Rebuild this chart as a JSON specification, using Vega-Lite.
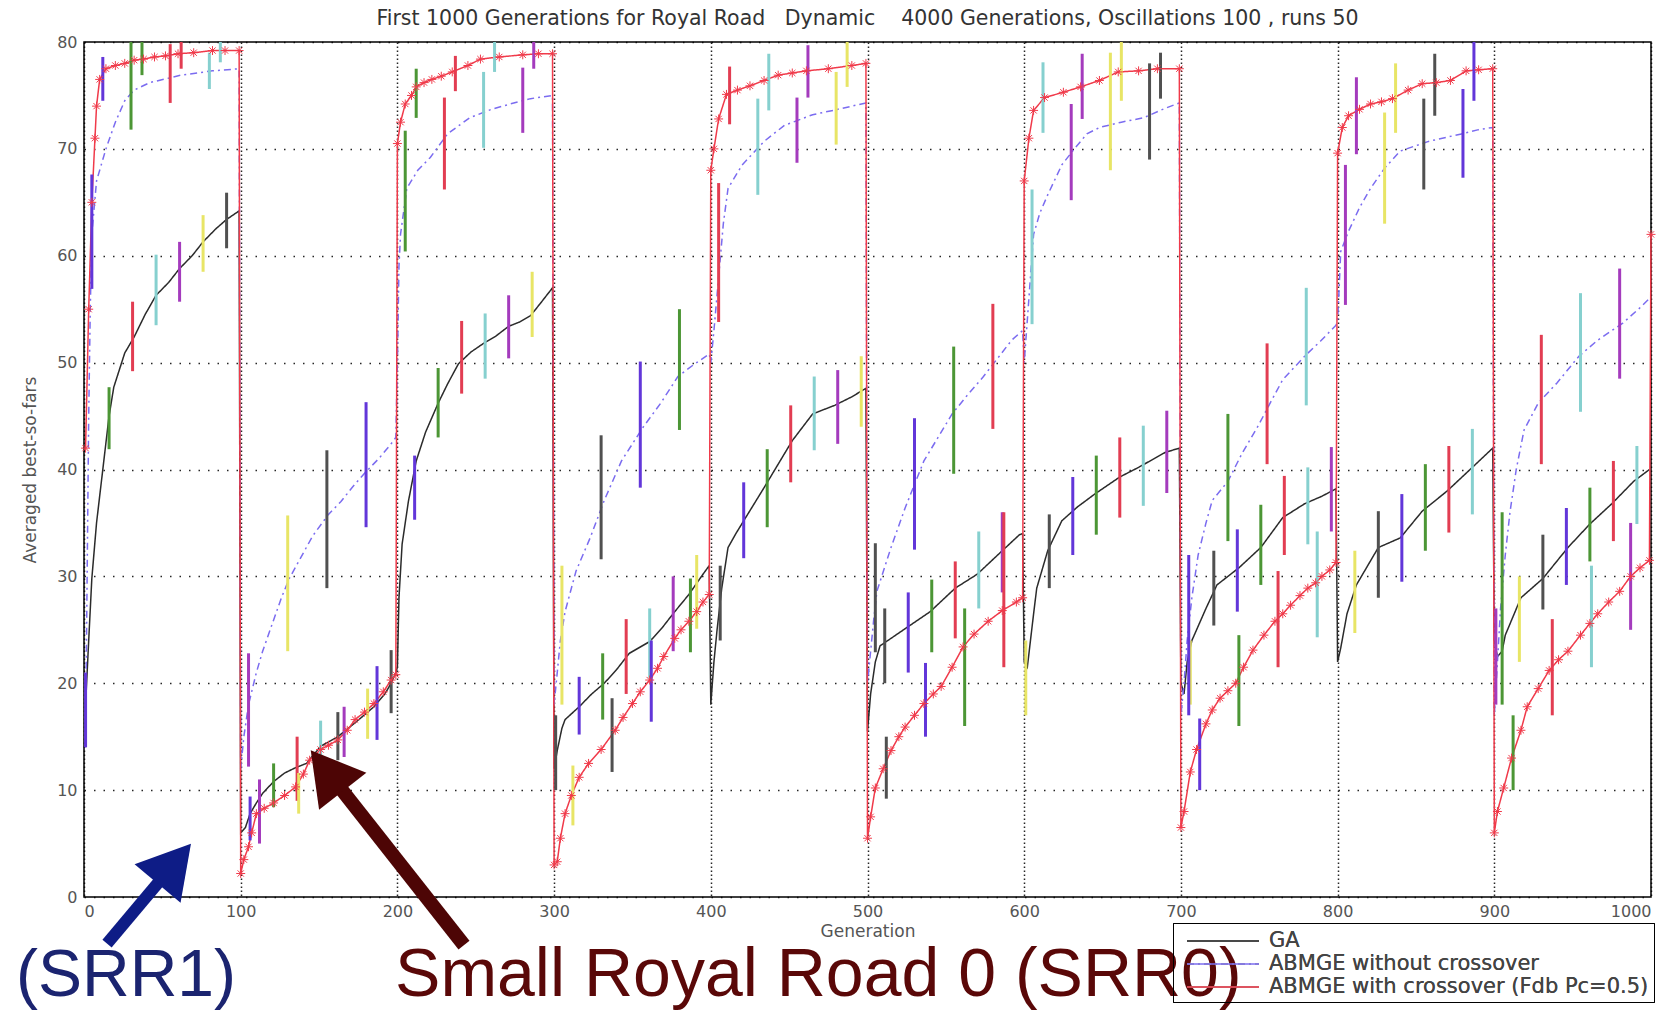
{
"$schema": "https://vega.github.io/schema/vega-lite/v6.json",
"width": 1567, "height": 855,
"autosize": "none",
"padding": {"left": 84, "top": 42, "right": 22, "bottom": 115},
"background": "white",
"title": {"text": "First 1000 Generations for Royal Road\u00a0\u00a0 Dynamic\u00a0\u00a0\u00a0 4000 Generations, Oscillations 100 , runs 50", "font": "DejaVu Sans", "fontSize": 20.5, "fontWeight": "normal", "color": "#333", "offset": 5, "anchor": "middle"},
"config": {"view": {"stroke": "#000", "strokeWidth": 1.5}},
"datasets": {
"L": [
{"s":"GA","x":1,"y":18},{"s":"GA","x":3,"y":24},{"s":"GA","x":5,"y":29.8},{"s":"GA","x":8,"y":35},{"s":"GA","x":12,"y":40},{"s":"GA","x":16,"y":45},{"s":"GA","x":19,"y":47.7},{"s":"GA","x":26,"y":50.9},{"s":"GA","x":32,"y":52.4},{"s":"GA","x":39,"y":54.5},{"s":"GA","x":46,"y":56.3},{"s":"GA","x":54,"y":57.5},{"s":"GA","x":61,"y":58.8},{"s":"GA","x":69,"y":60},{"s":"GA","x":76,"y":61.3},{"s":"GA","x":84,"y":62.5},{"s":"GA","x":91,"y":63.4},{"s":"GA","x":99,"y":64.2},
{"s":"GA","x":100,"y":6},{"s":"GA","x":103,"y":6.5},{"s":"GA","x":106,"y":7.8},{"s":"GA","x":110,"y":8.8},{"s":"GA","x":114,"y":9.7},{"s":"GA","x":121,"y":10.8},{"s":"GA","x":128,"y":11.6},{"s":"GA","x":135,"y":12.1},{"s":"GA","x":142,"y":12.5},{"s":"GA","x":151,"y":14.1},{"s":"GA","x":162,"y":15},{"s":"GA","x":173,"y":16.3},{"s":"GA","x":185,"y":17.8},{"s":"GA","x":192,"y":19},{"s":"GA","x":196,"y":20},{"s":"GA","x":199,"y":21},
{"s":"GA","x":200,"y":21.5},{"s":"GA","x":201,"y":28},{"s":"GA","x":203,"y":33},{"s":"GA","x":207,"y":37},{"s":"GA","x":212,"y":40.8},{"s":"GA","x":218,"y":43.5},{"s":"GA","x":226,"y":46.2},{"s":"GA","x":232,"y":48},{"s":"GA","x":239,"y":49.9},{"s":"GA","x":247,"y":51},{"s":"GA","x":255,"y":51.8},{"s":"GA","x":263,"y":52.5},{"s":"GA","x":271,"y":53.4},{"s":"GA","x":278,"y":53.8},{"s":"GA","x":285,"y":54.4},{"s":"GA","x":291,"y":55.5},{"s":"GA","x":299,"y":57},
{"s":"GA","x":300,"y":12},{"s":"GA","x":302,"y":13.7},{"s":"GA","x":305,"y":15.8},{"s":"GA","x":307,"y":16.6},{"s":"GA","x":316,"y":17.8},{"s":"GA","x":324,"y":19},{"s":"GA","x":332,"y":20},{"s":"GA","x":340,"y":21.3},{"s":"GA","x":348,"y":22.8},{"s":"GA","x":361,"y":23.9},{"s":"GA","x":369,"y":25.2},{"s":"GA","x":377,"y":26.7},{"s":"GA","x":386,"y":28.3},{"s":"GA","x":395,"y":30.2},{"s":"GA","x":399,"y":31},
{"s":"GA","x":400,"y":18},{"s":"GA","x":402,"y":22},{"s":"GA","x":404,"y":25},{"s":"GA","x":407,"y":28.9},{"s":"GA","x":411,"y":32.7},{"s":"GA","x":416,"y":34},{"s":"GA","x":421,"y":35.2},{"s":"GA","x":434,"y":38.3},{"s":"GA","x":443,"y":40.5},{"s":"GA","x":452,"y":42.7},{"s":"GA","x":465,"y":45.2},{"s":"GA","x":479,"y":46},{"s":"GA","x":490,"y":46.8},{"s":"GA","x":499,"y":47.6},
{"s":"GA","x":500,"y":15.5},{"s":"GA","x":502,"y":19},{"s":"GA","x":505,"y":22},{"s":"GA","x":508,"y":23.5},{"s":"GA","x":515,"y":24.2},{"s":"GA","x":524,"y":25.1},{"s":"GA","x":540,"y":26.7},{"s":"GA","x":556,"y":28.9},{"s":"GA","x":570,"y":30.2},{"s":"GA","x":586,"y":32.4},{"s":"GA","x":597,"y":33.9},{"s":"GA","x":599,"y":34},
{"s":"GA","x":600,"y":22},{"s":"GA","x":602,"y":21.5},{"s":"GA","x":604,"y":24},{"s":"GA","x":606,"y":26.5},{"s":"GA","x":608,"y":28.9},{"s":"GA","x":615,"y":32.4},{"s":"GA","x":624,"y":35.2},{"s":"GA","x":634,"y":36.5},{"s":"GA","x":645,"y":37.7},{"s":"GA","x":661,"y":39.3},{"s":"GA","x":673,"y":40.2},{"s":"GA","x":690,"y":41.6},{"s":"GA","x":699,"y":42},
{"s":"GA","x":700,"y":20},{"s":"GA","x":702,"y":19},{"s":"GA","x":704,"y":22},{"s":"GA","x":707,"y":24},{"s":"GA","x":716,"y":27},{"s":"GA","x":723,"y":29.2},{"s":"GA","x":737,"y":30.8},{"s":"GA","x":751,"y":32.7},{"s":"GA","x":765,"y":35.5},{"s":"GA","x":779,"y":36.8},{"s":"GA","x":790,"y":37.5},{"s":"GA","x":799,"y":38.2},
{"s":"GA","x":800,"y":22},{"s":"GA","x":802,"y":23.3},{"s":"GA","x":806,"y":26.5},{"s":"GA","x":812,"y":29.2},{"s":"GA","x":826,"y":32.7},{"s":"GA","x":840,"y":33.6},{"s":"GA","x":854,"y":36.1},{"s":"GA","x":870,"y":38},{"s":"GA","x":886,"y":40.2},{"s":"GA","x":899,"y":42},
{"s":"GA","x":900,"y":24},{"s":"GA","x":902,"y":22.5},{"s":"GA","x":905,"y":23},{"s":"GA","x":907,"y":24.5},{"s":"GA","x":917,"y":28},{"s":"GA","x":931,"y":29.8},{"s":"GA","x":947,"y":32.7},{"s":"GA","x":961,"y":34.9},{"s":"GA","x":975,"y":36.8},{"s":"GA","x":989,"y":38.9},{"s":"GA","x":999,"y":40},
{"s":"A","x":1,"y":15},{"s":"A","x":2,"y":30},{"s":"A","x":3,"y":45},{"s":"A","x":4,"y":55},{"s":"A","x":5,"y":62},{"s":"A","x":8,"y":67},{"s":"A","x":14,"y":70},{"s":"A","x":20,"y":72.5},{"s":"A","x":26,"y":74.5},{"s":"A","x":32,"y":75.5},{"s":"A","x":42,"y":76.2},{"s":"A","x":62,"y":76.9},{"s":"A","x":82,"y":77.3},{"s":"A","x":99,"y":77.5},
{"s":"A","x":100,"y":12},{"s":"A","x":102,"y":15},{"s":"A","x":105,"y":18},{"s":"A","x":110,"y":21},{"s":"A","x":114,"y":23},{"s":"A","x":120,"y":25.5},{"s":"A","x":126,"y":28},{"s":"A","x":131,"y":29.8},{"s":"A","x":137,"y":31.4},{"s":"A","x":146,"y":33.8},{"s":"A","x":156,"y":35.8},{"s":"A","x":164,"y":37},{"s":"A","x":171,"y":38.3},{"s":"A","x":180,"y":39.8},{"s":"A","x":188,"y":41},{"s":"A","x":196,"y":42.4},{"s":"A","x":199,"y":43},
{"s":"A","x":200,"y":50},{"s":"A","x":201,"y":59},{"s":"A","x":202,"y":62},{"s":"A","x":206,"y":66.3},{"s":"A","x":213,"y":68},{"s":"A","x":221,"y":69.2},{"s":"A","x":232,"y":71.4},{"s":"A","x":246,"y":72.9},{"s":"A","x":260,"y":73.7},{"s":"A","x":272,"y":74.2},{"s":"A","x":285,"y":74.7},{"s":"A","x":299,"y":75},
{"s":"A","x":300,"y":18},{"s":"A","x":302,"y":21},{"s":"A","x":304,"y":24},{"s":"A","x":307,"y":26.7},{"s":"A","x":314,"y":30.5},{"s":"A","x":323,"y":33.6},{"s":"A","x":332,"y":37.1},{"s":"A","x":343,"y":40.8},{"s":"A","x":357,"y":44},{"s":"A","x":368,"y":46.2},{"s":"A","x":379,"y":48.7},{"s":"A","x":389,"y":49.8},{"s":"A","x":399,"y":50.8},
{"s":"A","x":400,"y":50},{"s":"A","x":402,"y":53},{"s":"A","x":405,"y":58},{"s":"A","x":408,"y":63},{"s":"A","x":411,"y":66.3},{"s":"A","x":420,"y":68.5},{"s":"A","x":434,"y":70.7},{"s":"A","x":447,"y":72.2},{"s":"A","x":465,"y":73.2},{"s":"A","x":478,"y":73.6},{"s":"A","x":490,"y":74},{"s":"A","x":499,"y":74.3},
{"s":"A","x":500,"y":20},{"s":"A","x":502,"y":23},{"s":"A","x":504,"y":26},{"s":"A","x":506,"y":28.6},{"s":"A","x":515,"y":32.7},{"s":"A","x":524,"y":36.4},{"s":"A","x":536,"y":40.8},{"s":"A","x":545,"y":43},{"s":"A","x":554,"y":45.2},{"s":"A","x":564,"y":47},{"s":"A","x":574,"y":48.7},{"s":"A","x":583,"y":50.4},{"s":"A","x":592,"y":52.1},{"s":"A","x":599,"y":53},
{"s":"A","x":600,"y":50},{"s":"A","x":602,"y":54},{"s":"A","x":606,"y":62},{"s":"A","x":610,"y":64},{"s":"A","x":615,"y":65.7},{"s":"A","x":624,"y":68.5},{"s":"A","x":632,"y":70},{"s":"A","x":640,"y":71.4},{"s":"A","x":648,"y":72},{"s":"A","x":662,"y":72.5},{"s":"A","x":676,"y":72.9},{"s":"A","x":690,"y":73.8},{"s":"A","x":699,"y":74.3},
{"s":"A","x":700,"y":17},{"s":"A","x":702,"y":20},{"s":"A","x":704,"y":24},{"s":"A","x":707,"y":28},{"s":"A","x":711,"y":32},{"s":"A","x":716,"y":35},{"s":"A","x":720,"y":37.1},{"s":"A","x":730,"y":38.9},{"s":"A","x":739,"y":41.5},{"s":"A","x":749,"y":44},{"s":"A","x":758,"y":46.5},{"s":"A","x":765,"y":48.4},{"s":"A","x":779,"y":50.6},{"s":"A","x":789,"y":52},{"s":"A","x":799,"y":53.5},
{"s":"A","x":800,"y":54},{"s":"A","x":801,"y":57},{"s":"A","x":802,"y":60.4},{"s":"A","x":807,"y":62.3},{"s":"A","x":814,"y":64.5},{"s":"A","x":821,"y":66.3},{"s":"A","x":830,"y":68.2},{"s":"A","x":840,"y":69.8},{"s":"A","x":858,"y":70.7},{"s":"A","x":879,"y":71.4},{"s":"A","x":890,"y":71.8},{"s":"A","x":899,"y":72},
{"s":"A","x":900,"y":17},{"s":"A","x":902,"y":22},{"s":"A","x":904,"y":27},{"s":"A","x":907,"y":32},{"s":"A","x":910,"y":36},{"s":"A","x":914,"y":40},{"s":"A","x":919,"y":43.7},{"s":"A","x":928,"y":46.2},{"s":"A","x":940,"y":48.1},{"s":"A","x":954,"y":50.6},{"s":"A","x":966,"y":52.1},{"s":"A","x":982,"y":53.7},{"s":"A","x":992,"y":55},{"s":"A","x":999,"y":56},
{"s":"B","x":1,"y":42},{"s":"B","x":3,"y":55},{"s":"B","x":5,"y":65},{"s":"B","x":7,"y":71},{"s":"B","x":8,"y":74},{"s":"B","x":10,"y":76.5},{"s":"B","x":14,"y":77.5},{"s":"B","x":20,"y":77.8},{"s":"B","x":26,"y":78},{"s":"B","x":32,"y":78.3},{"s":"B","x":38,"y":78.4},{"s":"B","x":45,"y":78.6},{"s":"B","x":52,"y":78.7},{"s":"B","x":60,"y":78.9},{"s":"B","x":70,"y":79},{"s":"B","x":82,"y":79.2},{"s":"B","x":90,"y":79.2},{"s":"B","x":99,"y":79.2},
{"s":"B","x":100,"y":2.2},{"s":"B","x":102,"y":3.5},{"s":"B","x":105,"y":4.7},{"s":"B","x":107,"y":6},{"s":"B","x":110,"y":7.8},{"s":"B","x":115,"y":8.3},{"s":"B","x":121,"y":8.8},{"s":"B","x":128,"y":9.5},{"s":"B","x":135,"y":10.3},{"s":"B","x":140,"y":11.5},{"s":"B","x":144,"y":12.8},{"s":"B","x":151,"y":13.8},{"s":"B","x":156,"y":14.2},{"s":"B","x":162,"y":14.7},{"s":"B","x":168,"y":15.6},{"s":"B","x":173,"y":16.6},{"s":"B","x":179,"y":17.3},{"s":"B","x":185,"y":18.1},{"s":"B","x":191,"y":19.2},{"s":"B","x":196,"y":20.3},{"s":"B","x":199,"y":20.8},
{"s":"B","x":200,"y":70.5},{"s":"B","x":202,"y":72.5},{"s":"B","x":205,"y":74.2},{"s":"B","x":209,"y":75},{"s":"B","x":212,"y":75.8},{"s":"B","x":217,"y":76.2},{"s":"B","x":222,"y":76.5},{"s":"B","x":228,"y":76.8},{"s":"B","x":235,"y":77.2},{"s":"B","x":245,"y":77.8},{"s":"B","x":253,"y":78.4},{"s":"B","x":265,"y":78.6},{"s":"B","x":280,"y":78.8},{"s":"B","x":290,"y":78.9},{"s":"B","x":299,"y":78.9},
{"s":"B","x":300,"y":3},{"s":"B","x":302,"y":3.3},{"s":"B","x":304,"y":5.5},{"s":"B","x":307,"y":7.8},{"s":"B","x":311,"y":9.5},{"s":"B","x":316,"y":11.2},{"s":"B","x":322,"y":12.5},{"s":"B","x":330,"y":13.8},{"s":"B","x":339,"y":15.6},{"s":"B","x":344,"y":16.8},{"s":"B","x":350,"y":18.1},{"s":"B","x":355,"y":19.2},{"s":"B","x":361,"y":20.3},{"s":"B","x":366,"y":21.4},{"s":"B","x":370,"y":22.5},{"s":"B","x":377,"y":24.2},{"s":"B","x":381,"y":25},{"s":"B","x":386,"y":25.8},{"s":"B","x":391,"y":26.7},{"s":"B","x":395,"y":27.6},{"s":"B","x":399,"y":28.3},
{"s":"B","x":400,"y":68},{"s":"B","x":402,"y":70},{"s":"B","x":405,"y":72.8},{"s":"B","x":410,"y":75.1},{"s":"B","x":417,"y":75.5},{"s":"B","x":425,"y":75.9},{"s":"B","x":434,"y":76.4},{"s":"B","x":443,"y":76.9},{"s":"B","x":452,"y":77.1},{"s":"B","x":461,"y":77.3},{"s":"B","x":475,"y":77.5},{"s":"B","x":490,"y":77.8},{"s":"B","x":499,"y":78},
{"s":"B","x":500,"y":5.5},{"s":"B","x":502,"y":7.5},{"s":"B","x":505,"y":10.2},{"s":"B","x":510,"y":12},{"s":"B","x":515,"y":13.7},{"s":"B","x":520,"y":15},{"s":"B","x":524,"y":15.9},{"s":"B","x":530,"y":17},{"s":"B","x":536,"y":18.1},{"s":"B","x":542,"y":19},{"s":"B","x":547,"y":19.7},{"s":"B","x":554,"y":21.5},{"s":"B","x":561,"y":23.4},{"s":"B","x":568,"y":24.6},{"s":"B","x":577,"y":25.8},{"s":"B","x":586,"y":26.8},{"s":"B","x":595,"y":27.6},{"s":"B","x":599,"y":28},
{"s":"B","x":600,"y":67},{"s":"B","x":603,"y":71},{"s":"B","x":606,"y":73.6},{"s":"B","x":613,"y":74.8},{"s":"B","x":625,"y":75.3},{"s":"B","x":636,"y":75.8},{"s":"B","x":648,"y":76.4},{"s":"B","x":660,"y":77.2},{"s":"B","x":673,"y":77.3},{"s":"B","x":685,"y":77.5},{"s":"B","x":699,"y":77.5},
{"s":"B","x":700,"y":6.5},{"s":"B","x":702,"y":8},{"s":"B","x":706,"y":11.7},{"s":"B","x":710,"y":13.8},{"s":"B","x":716,"y":16.2},{"s":"B","x":720,"y":17.5},{"s":"B","x":725,"y":18.6},{"s":"B","x":730,"y":19.3},{"s":"B","x":735,"y":20},{"s":"B","x":740,"y":21.5},{"s":"B","x":746,"y":23.1},{"s":"B","x":753,"y":24.5},{"s":"B","x":760,"y":25.8},{"s":"B","x":765,"y":26.5},{"s":"B","x":770,"y":27.3},{"s":"B","x":776,"y":28.2},{"s":"B","x":781,"y":28.9},{"s":"B","x":786,"y":29.4},{"s":"B","x":790,"y":30},{"s":"B","x":795,"y":30.6},{"s":"B","x":799,"y":31.3},
{"s":"B","x":800,"y":69.6},{"s":"B","x":803,"y":72},{"s":"B","x":807,"y":73.1},{"s":"B","x":814,"y":73.7},{"s":"B","x":821,"y":74.2},{"s":"B","x":828,"y":74.4},{"s":"B","x":835,"y":74.7},{"s":"B","x":845,"y":75.5},{"s":"B","x":854,"y":76.1},{"s":"B","x":863,"y":76.2},{"s":"B","x":872,"y":76.4},{"s":"B","x":882,"y":77.3},{"s":"B","x":890,"y":77.4},{"s":"B","x":899,"y":77.5},
{"s":"B","x":900,"y":6},{"s":"B","x":902,"y":8},{"s":"B","x":906,"y":10.2},{"s":"B","x":911,"y":13},{"s":"B","x":917,"y":15.6},{"s":"B","x":921,"y":17.8},{"s":"B","x":928,"y":19.5},{"s":"B","x":935,"y":21.2},{"s":"B","x":941,"y":22.2},{"s":"B","x":947,"y":23},{"s":"B","x":955,"y":24.5},{"s":"B","x":961,"y":25.6},{"s":"B","x":966,"y":26.5},{"s":"B","x":973,"y":27.6},{"s":"B","x":980,"y":28.6},{"s":"B","x":987,"y":30},{"s":"B","x":993,"y":30.8},{"s":"B","x":999,"y":31.5},{"s":"B","x":1000,"y":62}
],
"E": [
{"x":1,"lo":14,"hi":21,"c":"b"},{"x":16,"lo":41.9,"hi":47.7,"c":"g"},{"x":31,"lo":49.2,"hi":55.7,"c":"r"},{"x":46,"lo":53.5,"hi":60.1,"c":"c"},{"x":61,"lo":55.7,"hi":61.3,"c":"m"},{"x":76,"lo":58.5,"hi":63.8,"c":"y"},{"x":91,"lo":60.7,"hi":65.9,"c":"k"},
{"x":106,"lo":5.3,"hi":9.4,"c":"b"},{"x":121,"lo":8.4,"hi":12.5,"c":"g"},{"x":136,"lo":9,"hi":15,"c":"r"},{"x":151,"lo":12,"hi":16.5,"c":"c"},{"x":166,"lo":13.1,"hi":17.8,"c":"m"},{"x":181,"lo":14.8,"hi":19.5,"c":"y"},{"x":196,"lo":17.2,"hi":23.1,"c":"k"},
{"x":211,"lo":35.3,"hi":41.3,"c":"b"},{"x":226,"lo":43,"hi":49.5,"c":"g"},{"x":241,"lo":47.1,"hi":53.9,"c":"r"},{"x":256,"lo":48.5,"hi":54.6,"c":"c"},{"x":271,"lo":50.4,"hi":56.3,"c":"m"},{"x":286,"lo":52.4,"hi":58.5,"c":"y"},{"x":301,"lo":10,"hi":17,"c":"k"},
{"x":316,"lo":15.2,"hi":20.6,"c":"b"},{"x":331,"lo":16.6,"hi":22.8,"c":"g"},{"x":346,"lo":19,"hi":26,"c":"r"},{"x":361,"lo":20.5,"hi":27,"c":"c"},{"x":376,"lo":23,"hi":30,"c":"m"},{"x":391,"lo":25.1,"hi":32,"c":"y"},{"x":406,"lo":24,"hi":31,"c":"k"},
{"x":421,"lo":31.7,"hi":38.8,"c":"b"},{"x":436,"lo":34.6,"hi":41.9,"c":"g"},{"x":451,"lo":38.8,"hi":46,"c":"r"},{"x":466,"lo":41.8,"hi":48.7,"c":"c"},{"x":481,"lo":42.4,"hi":49.3,"c":"m"},{"x":496,"lo":44,"hi":50.6,"c":"y"},{"x":511,"lo":20,"hi":27,"c":"k"},
{"x":526,"lo":21,"hi":28.5,"c":"b"},{"x":541,"lo":22.9,"hi":29.7,"c":"g"},{"x":556,"lo":24.2,"hi":31.4,"c":"r"},{"x":571,"lo":27,"hi":34.2,"c":"c"},{"x":586,"lo":28.5,"hi":36,"c":"m"},{"x":601,"lo":17,"hi":24,"c":"y"},{"x":616,"lo":28.9,"hi":35.8,"c":"k"},
{"x":631,"lo":32,"hi":39.3,"c":"b"},{"x":646,"lo":33.9,"hi":41.3,"c":"g"},{"x":661,"lo":35.5,"hi":43,"c":"r"},{"x":676,"lo":36.6,"hi":44.1,"c":"c"},{"x":691,"lo":37.8,"hi":45.5,"c":"m"},{"x":706,"lo":18,"hi":24,"c":"y"},{"x":721,"lo":25.4,"hi":32.4,"c":"k"},
{"x":736,"lo":26.7,"hi":34.4,"c":"b"},{"x":751,"lo":29.2,"hi":36.7,"c":"g"},{"x":766,"lo":32,"hi":39.4,"c":"r"},{"x":781,"lo":33,"hi":40.2,"c":"c"},{"x":796,"lo":34.2,"hi":42.1,"c":"m"},{"x":811,"lo":24.7,"hi":32.4,"c":"y"},{"x":826,"lo":28,"hi":36.1,"c":"k"},
{"x":841,"lo":29.5,"hi":37.7,"c":"b"},{"x":856,"lo":32.4,"hi":40.5,"c":"g"},{"x":871,"lo":34.1,"hi":42.2,"c":"r"},{"x":886,"lo":35.8,"hi":43.8,"c":"c"},{"x":901,"lo":18,"hi":27,"c":"m"},{"x":916,"lo":22,"hi":30,"c":"y"},{"x":931,"lo":26.9,"hi":33.9,"c":"k"},
{"x":946,"lo":29.2,"hi":36.4,"c":"b"},{"x":961,"lo":31.4,"hi":38.3,"c":"g"},{"x":976,"lo":33.3,"hi":40.8,"c":"r"},{"x":991,"lo":34.9,"hi":42.2,"c":"c"},
{"x":5,"lo":56.9,"hi":67.6,"c":"b"},{"x":30,"lo":71.8,"hi":80,"c":"g"},{"x":55,"lo":74.3,"hi":79.8,"c":"r"},{"x":80,"lo":75.6,"hi":79,"c":"c"},{"x":105,"lo":12.2,"hi":22.8,"c":"m"},{"x":130,"lo":23,"hi":35.7,"c":"y"},{"x":155,"lo":28.9,"hi":41.8,"c":"k"},
{"x":180,"lo":34.6,"hi":46.3,"c":"b"},{"x":205,"lo":60.4,"hi":71.7,"c":"g"},{"x":230,"lo":66.2,"hi":74.8,"c":"r"},{"x":255,"lo":70.1,"hi":77.2,"c":"c"},{"x":280,"lo":71.5,"hi":77.6,"c":"m"},{"x":305,"lo":18,"hi":31,"c":"y"},{"x":330,"lo":31.6,"hi":43.2,"c":"k"},
{"x":355,"lo":38.3,"hi":50.1,"c":"b"},{"x":380,"lo":43.7,"hi":55,"c":"g"},{"x":405,"lo":53.8,"hi":66.8,"c":"r"},{"x":430,"lo":65.7,"hi":74.7,"c":"c"},{"x":455,"lo":68.7,"hi":74.8,"c":"m"},{"x":480,"lo":70.4,"hi":77.2,"c":"y"},{"x":505,"lo":22.9,"hi":33.1,"c":"k"},
{"x":530,"lo":32.5,"hi":44.8,"c":"b"},{"x":555,"lo":39.6,"hi":51.5,"c":"g"},{"x":580,"lo":43.8,"hi":55.5,"c":"r"},{"x":605,"lo":53.6,"hi":66.2,"c":"c"},{"x":630,"lo":65.2,"hi":74.2,"c":"m"},{"x":655,"lo":68,"hi":79,"c":"y"},{"x":680,"lo":69,"hi":78,"c":"k"},
{"x":705,"lo":17,"hi":32,"c":"b"},{"x":730,"lo":33.3,"hi":45.2,"c":"g"},{"x":755,"lo":40.5,"hi":51.8,"c":"r"},{"x":780,"lo":46,"hi":57,"c":"c"},{"x":805,"lo":55.4,"hi":68.5,"c":"m"},{"x":830,"lo":63,"hi":73.4,"c":"y"},{"x":855,"lo":66.2,"hi":74.7,"c":"k"},
{"x":880,"lo":67.3,"hi":75.6,"c":"b"},{"x":905,"lo":18,"hi":36,"c":"g"},{"x":930,"lo":40.5,"hi":52.6,"c":"r"},{"x":955,"lo":45.4,"hi":56.5,"c":"c"},{"x":980,"lo":48.5,"hi":58.8,"c":"m"},
{"x":12,"lo":74.5,"hi":78.6,"c":"b"},{"x":37,"lo":76.9,"hi":80,"c":"g"},{"x":62,"lo":77.5,"hi":80,"c":"r"},{"x":87,"lo":78.1,"hi":80,"c":"c"},{"x":112,"lo":5,"hi":11,"c":"m"},{"x":137,"lo":7.8,"hi":11.6,"c":"y"},{"x":162,"lo":12.8,"hi":17.3,"c":"k"},
{"x":187,"lo":14.7,"hi":21.6,"c":"b"},{"x":212,"lo":72.9,"hi":77.5,"c":"g"},{"x":237,"lo":75.4,"hi":78.7,"c":"r"},{"x":262,"lo":77.2,"hi":80,"c":"c"},{"x":287,"lo":77.5,"hi":80,"c":"m"},{"x":312,"lo":6.7,"hi":12.3,"c":"y"},{"x":337,"lo":11.7,"hi":18.6,"c":"k"},
{"x":362,"lo":16.4,"hi":24,"c":"b"},{"x":387,"lo":22.9,"hi":29.8,"c":"g"},{"x":412,"lo":72.3,"hi":77.7,"c":"r"},{"x":437,"lo":73.6,"hi":78.9,"c":"c"},{"x":462,"lo":74.8,"hi":79.7,"c":"m"},{"x":487,"lo":75.8,"hi":80,"c":"y"},{"x":512,"lo":9.2,"hi":15,"c":"k"},
{"x":537,"lo":15,"hi":21.9,"c":"b"},{"x":562,"lo":16,"hi":27,"c":"g"},{"x":587,"lo":21.5,"hi":36,"c":"r"},{"x":612,"lo":71.5,"hi":78.1,"c":"c"},{"x":637,"lo":72.8,"hi":78.9,"c":"m"},{"x":662,"lo":74.5,"hi":80,"c":"y"},{"x":687,"lo":74.7,"hi":79,"c":"k"},
{"x":712,"lo":10,"hi":16.7,"c":"b"},{"x":737,"lo":16,"hi":24.5,"c":"g"},{"x":762,"lo":21.5,"hi":30.5,"c":"r"},{"x":787,"lo":24.3,"hi":34.2,"c":"c"},{"x":812,"lo":69.5,"hi":76.7,"c":"m"},{"x":837,"lo":71.5,"hi":78,"c":"y"},{"x":862,"lo":73.1,"hi":78.9,"c":"k"},
{"x":887,"lo":74.5,"hi":80,"c":"b"},{"x":912,"lo":10,"hi":17,"c":"g"},{"x":937,"lo":17,"hi":26,"c":"r"},{"x":962,"lo":21.5,"hi":31,"c":"c"},{"x":987,"lo":25,"hi":35,"c":"m"}
],
"A": [
{"a":"SRR1","x":14.7,"y":-4.36,"x2":57.6,"y2":3.13},
{"a":"SRR0","x":242.5,"y":-4.5,"x2":154.9,"y2":11.81}
],
"T": [
{"t":"(SRR1)","x":26.8,"y":-9.3},
{"t":"Small Royal Road 0 (SRR0)","x":198.5,"y":-9.3}
]
},
"layer": [
{"data": {"name": "L"},
 "mark": {"type": "line", "strokeWidth": 1.5},
 "encoding": {
  "x": {"field": "x", "type": "quantitative", "scale": {"domain": [0, 1000], "nice": false, "zero": false},
   "axis": {"values": [0,100,200,300,400,500,600,700,800,900,1000], "format": "d", "grid": true, "gridDash": [1.5, 2.5], "gridColor": "#000", "gridWidth": 1.5, "gridOpacity": 0.85, "domain": false, "ticks": false, "labelFont": "DejaVu Sans", "labelFontSize": 16, "labelColor": "#555", "labelPadding": 6, "title": "Generation", "titleFont": "DejaVu Sans", "titleFontSize": 17, "titleFontWeight": "normal", "titleColor": "#555", "titlePadding": 4}},
  "y": {"field": "y", "type": "quantitative", "scale": {"domain": [0, 80], "nice": false, "zero": false},
   "axis": {"values": [0,10,20,30,40,50,60,70,80], "format": "d", "grid": true, "gridDash": [1.5, 8], "gridColor": "#000", "gridWidth": 1.5, "gridOpacity": 0.85, "domain": false, "ticks": false, "labelFont": "DejaVu Sans", "labelFontSize": 16, "labelColor": "#555", "labelPadding": 7, "title": "Averaged best-so-fars", "titleFont": "DejaVu Sans", "titleFontSize": 17, "titleFontWeight": "normal", "titleColor": "#555", "titlePadding": 17}},
  "color": {"field": "s", "type": "nominal", "scale": {"domain": ["GA", "A", "B"], "range": ["#2b2b2b", "#7b6cf0", "#f03a4a"]},
   "legend": {"orient": "none", "legendX": 1089, "legendY": 881, "title": null, "strokeColor": "#000", "padding": 5, "symbolType": "M-3,0H3", "symbolSize": 576, "symbolOffset": 32, "symbolFillColor": "transparent", "symbolStrokeWidth": 1.5, "labelFont": "DejaVu Sans", "labelFontSize": 21, "labelColor": "#444", "labelLimit": 0, "rowPadding": 0, "labelOffset": 33, "labelExpr": "datum.label == 'A' ? 'ABMGE without crossover' : datum.label == 'B' ? 'ABMGE with crossover (Fdb Pc=0.5)' : 'GA'"}},
  "strokeDash": {"field": "s", "type": "nominal", "scale": {"domain": ["GA", "A", "B"], "range": [[1, 0], [7, 4, 2, 4], [1, 0]]},
   "legend": {"orient": "none", "legendX": 1089, "legendY": 881, "title": null, "strokeColor": "#000", "padding": 5, "symbolType": "M-3,0H3", "symbolSize": 576, "symbolOffset": 32, "symbolFillColor": "transparent", "symbolStrokeWidth": 1.5, "labelFont": "DejaVu Sans", "labelFontSize": 21, "labelColor": "#444", "labelLimit": 0, "rowPadding": 0, "labelOffset": 33, "labelExpr": "datum.label == 'A' ? 'ABMGE without crossover' : datum.label == 'B' ? 'ABMGE with crossover (Fdb Pc=0.5)' : 'GA'"}}
 }},
{"data": {"name": "E"},
 "mark": {"type": "rule", "strokeWidth": 3},
 "encoding": {
  "x": {"field": "x", "type": "quantitative"},
  "y": {"field": "lo", "type": "quantitative"},
  "y2": {"field": "hi"},
  "color": {"field": "c", "type": "nominal", "scale": {"domain": ["b","g","r","c","m","y","k"], "range": ["#6236d9","#4c9635","#e23d52","#86d0cf","#a43bbd","#e8e566","#505050"]}, "legend": null}
 }},
{"data": {"name": "L"},
 "transform": [{"filter": "datum.s == 'B'"}],
 "mark": {"type": "point", "shape": "M-1,0L1,0M0,-1L0,1M-0.7,-0.7L0.7,0.7M-0.7,0.7L0.7,-0.7", "size": 80, "color": "#f03a4a", "filled": false, "strokeWidth": 1, "opacity": 1},
 "encoding": {"x": {"field": "x", "type": "quantitative"}, "y": {"field": "y", "type": "quantitative"}}},
{"data": {"name": "A"},
 "transform": [{"filter": "datum.a == 'SRR1'"}],
 "mark": {"type": "rule", "strokeWidth": 12, "color": "#0e1c86"},
 "encoding": {"x": {"field": "x", "type": "quantitative"}, "y": {"field": "y", "type": "quantitative"}, "x2": {"field": "x2"}, "y2": {"field": "y2"}}},
{"data": {"name": "A"},
 "transform": [{"filter": "datum.a == 'SRR1'"}],
 "mark": {"type": "point", "shape": "triangle-up", "size": 3600, "filled": true, "opacity": 1, "color": "#0e1c86", "angle": 40},
 "encoding": {"x": {"field": "x2", "type": "quantitative"}, "y": {"field": "y2", "type": "quantitative"}}},
{"data": {"name": "A"},
 "transform": [{"filter": "datum.a == 'SRR0'"}],
 "mark": {"type": "rule", "strokeWidth": 14, "color": "#4d0505"},
 "encoding": {"x": {"field": "x", "type": "quantitative"}, "y": {"field": "y", "type": "quantitative"}, "x2": {"field": "x2"}, "y2": {"field": "y2"}}},
{"data": {"name": "A"},
 "transform": [{"filter": "datum.a == 'SRR0'"}],
 "mark": {"type": "point", "shape": "triangle-up", "size": 3600, "filled": true, "opacity": 1, "color": "#4d0505", "angle": 322},
 "encoding": {"x": {"field": "x2", "type": "quantitative"}, "y": {"field": "y2", "type": "quantitative"}}},
{"data": {"name": "T"},
 "transform": [{"filter": "datum.t == '(SRR1)'"}],
 "mark": {"type": "text", "font": "Liberation Sans", "fontSize": 66, "color": "#1b2470", "align": "center", "baseline": "alphabetic"},
 "encoding": {"x": {"field": "x", "type": "quantitative"}, "y": {"field": "y", "type": "quantitative"}, "text": {"field": "t"}}},
{"data": {"name": "T"},
 "transform": [{"filter": "datum.t != '(SRR1)'"}],
 "mark": {"type": "text", "font": "Liberation Sans", "fontSize": 68, "color": "#5a0808", "align": "left", "baseline": "alphabetic"},
 "encoding": {"x": {"field": "x", "type": "quantitative"}, "y": {"field": "y", "type": "quantitative"}, "text": {"field": "t"}}}
],
"resolve": {"scale": {"color": "independent"}, "legend": {"color": "independent"}}
}
